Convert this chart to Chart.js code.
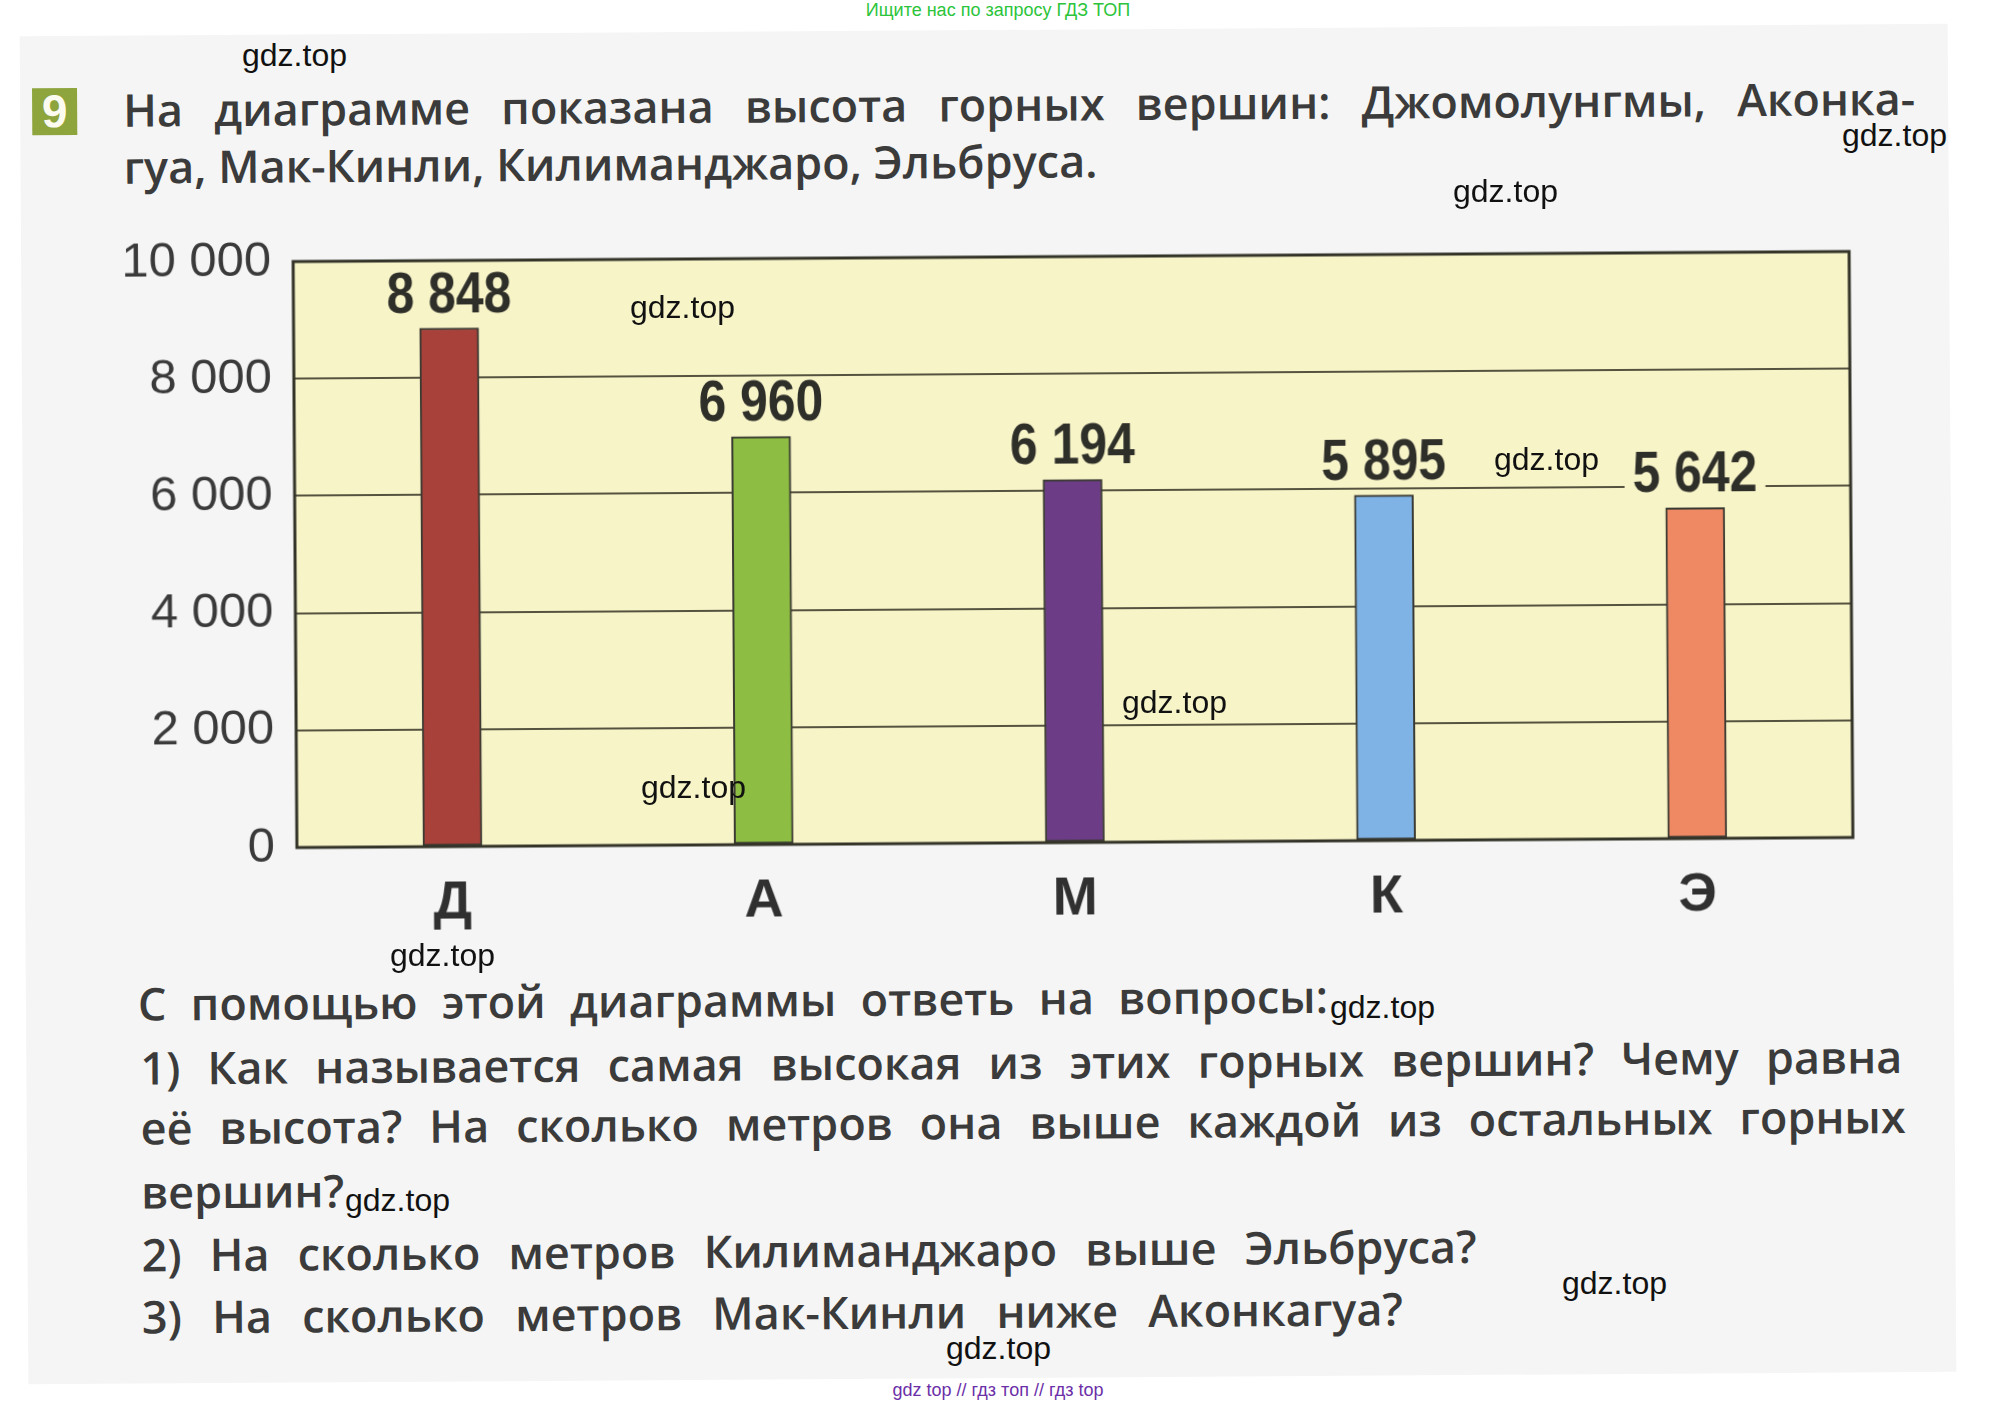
<!DOCTYPE html>
<html>
<head>
<meta charset="utf-8">
<script src="https://cdn.jsdelivr.net/npm/chart.js@4.4.1/dist/chart.umd.min.js"></script>
<style>
    html, body { margin: 0; padding: 0; background: #ffffff; }
    body { width: 1999px; height: 1406px; position: relative; overflow: hidden; }
    #scan {
        position: absolute; left: 0; top: 0; width: 1999px; height: 1406px;
        transform: rotate(-0.37deg); transform-origin: 1000px 703px;
    }
    #paper { position: absolute; left: 24px; top: 30px; width: 1928px; height: 1348px; background: #f4f5f4; }
    .line {
        position: absolute; white-space: nowrap; height: 60px; line-height: 60px;
        font-family: "Open Sans", "Noto Sans", sans-serif; font-weight: 600; font-size: 45px;
        color: #3b3b3b;
    }
    .just { text-align: justify; text-align-last: justify; }
    #badge {
        position: absolute; left: 36px; top: 82px; width: 45px; height: 47px; background: #8ea43d;
        color: #fbfbf0; font: bold 46px "Liberation Sans", sans-serif; text-align: center; line-height: 47px;
    }
    #chartBox { position: absolute; left: 100px; top: 200px; }
    .wm { position: absolute; font: 32px "Liberation Sans", Arial, sans-serif; color: #111; line-height: 36px; }
    .note { position: absolute; font: 18px "Liberation Sans Narrow", "Liberation Sans", sans-serif; width: 400px; text-align: center; }
</style>
</head>
<body>
<div id="scan">
    <div id="paper"></div>
    <div id="badge">9</div>
    <div class="line just" style="left:127px; top:74px; width:1792px;">На диаграмме показана высота горных вершин: Джомолунгмы, Аконка-</div>
    <div class="line" style="left:127px; top:131px;">гуа, Мак-Кинли, Килиманджаро, Эльбруса.</div>

    <div id="chartBox"><canvas id="chart" width="1800" height="760"></canvas></div>

    <div class="line just" style="left:136px; top:968px; width:1190px;">С помощью этой диаграммы ответь на вопросы:</div>
    <div class="line just" style="left:138px; top:1032px; width:1762px;">1) Как называется самая высокая из этих горных вершин? Чему равна</div>
    <div class="line just" style="left:138px; top:1092px; width:1765px;">её высота? На сколько метров она выше каждой из остальных горных</div>
    <div class="line" style="left:138px; top:1156px;">вершин?</div>
    <div class="line just" style="left:138px; top:1219px; width:1335px;">2) На сколько метров Килиманджаро выше Эльбруса?</div>
    <div class="line just" style="left:138px; top:1281px; width:1261px;">3) На сколько метров Мак-Кинли ниже Аконкагуа?</div>
</div>

<div class="note" style="left:798px; top:0px; color:#2bc43a;">Ищите нас по запросу ГДЗ ТОП</div>
<div class="note" style="left:798px; top:1380px; color:#6b2fa8;">gdz top // гдз топ // гдз top</div>

<div class="wm" style="left:242px; top:37px;">gdz.top</div>
<div class="wm" style="left:1842px; top:117px;">gdz.top</div>
<div class="wm" style="left:1453px; top:173px;">gdz.top</div>
<div class="wm" style="left:630px; top:289px;">gdz.top</div>
<div class="wm" style="left:1494px; top:441px;">gdz.top</div>
<div class="wm" style="left:1122px; top:684px;">gdz.top</div>
<div class="wm" style="left:641px; top:769px;">gdz.top</div>
<div class="wm" style="left:390px; top:937px;">gdz.top</div>
<div class="wm" style="left:1330px; top:989px;">gdz.top</div>
<div class="wm" style="left:345px; top:1182px;">gdz.top</div>
<div class="wm" style="left:1562px; top:1265px;">gdz.top</div>
<div class="wm" style="left:946px; top:1330px;">gdz.top</div>

<script>
// data
const peaks = ['Д', 'А', 'М', 'К', 'Э']
const heights = [8848, 6960, 6194, 5895, 5642]
const yTicks = [0, 2000, 4000, 6000, 8000, 10000]

const barColors = ['#a8413a', '#8dbd43', '#6c3d86', '#7fb3e6', '#ef8963']
const plotBg = '#f7f4c8'

// 8848 -> "8 848"
const fmt = v => String(v).replace(/\B(?=(\d{3})+(?!\d))/g, ' ')

// yellow plot background + dark frame
const plotFrame = {
    id: 'plotFrame',
    beforeDraw(chart) {
        const { ctx, chartArea: a } = chart
        ctx.save()
        ctx.fillStyle = plotBg
        ctx.fillRect(a.left, a.top, a.right - a.left, a.bottom - a.top)
        ctx.restore()
    },
    afterDraw(chart) {
        const { ctx, chartArea: a } = chart
        ctx.save()
        ctx.strokeStyle = '#333328'
        ctx.lineWidth = 3
        ctx.strokeRect(a.left, a.top, a.right - a.left, a.bottom - a.top)
        ctx.restore()
    }
}

// bold condensed numbers above bars
const valueLabels = {
    id: 'valueLabels',
    afterDatasetsDraw(chart) {
        const ctx = chart.ctx
        const meta = chart.getDatasetMeta(0)
        const squeeze = 0.86
        meta.data.forEach((bar, i) => {
            const txt = fmt(heights[i])
            const y = bar.y - 16
            ctx.save()
            ctx.font = 'bold 58px "Liberation Sans", Arial, sans-serif'
            const w = ctx.measureText(txt).width * squeeze
            ctx.fillStyle = plotBg
            ctx.fillRect(bar.x - w / 2 - 8, y - 42, w + 16, 46)
            ctx.translate(bar.x, y)
            ctx.scale(squeeze, 1)
            ctx.textAlign = 'center'
            ctx.textBaseline = 'alphabetic'
            ctx.fillStyle = '#2f2f2a'
            ctx.fillText(txt, 0, 0)
            ctx.restore()
        })
    }
}

new Chart(document.getElementById('chart').getContext('2d'), {
    type: 'bar',
    data: {
        labels: peaks,
        datasets: [{
            data: heights,
            backgroundColor: barColors,
            borderColor: '#3a3a32',
            borderWidth: 2,
            borderSkipped: false,
            barThickness: 59
        }]
    },
    options: {
        responsive: false,
        animation: false,
        layout: { padding: { top: 57, right: 48, left: 0, bottom: 0 } },
        plugins: {
            legend: { display: false },
            tooltip: { enabled: false }
        },
        scales: {
            x: {
                offset: true,
                grid: { display: false, drawTicks: false },
                border: { display: false },
                ticks: {
                    padding: 25,
                    color: '#303030',
                    font: { family: '"Liberation Sans", Arial, sans-serif', size: 54, weight: 'bold', lineHeight: 1.2 }
                },
                afterFit: axis => { axis.height = 117 }
            },
            y: {
                min: 0,
                max: 10000,
                afterBuildTicks: axis => { axis.ticks = yTicks.map(v => ({ value: v })) },
                grid: { color: '#55533f', lineWidth: 2, drawTicks: false },
                border: { display: false },
                ticks: {
                    padding: 22,
                    color: '#3a3a3a',
                    font: { family: '"Liberation Sans", Arial, sans-serif', size: 49 },
                    callback: v => fmt(v)
                },
                afterFit: axis => { axis.width = 196 }
            }
        }
    },
    plugins: [plotFrame, valueLabels]
})
</script>
</body>
</html>
